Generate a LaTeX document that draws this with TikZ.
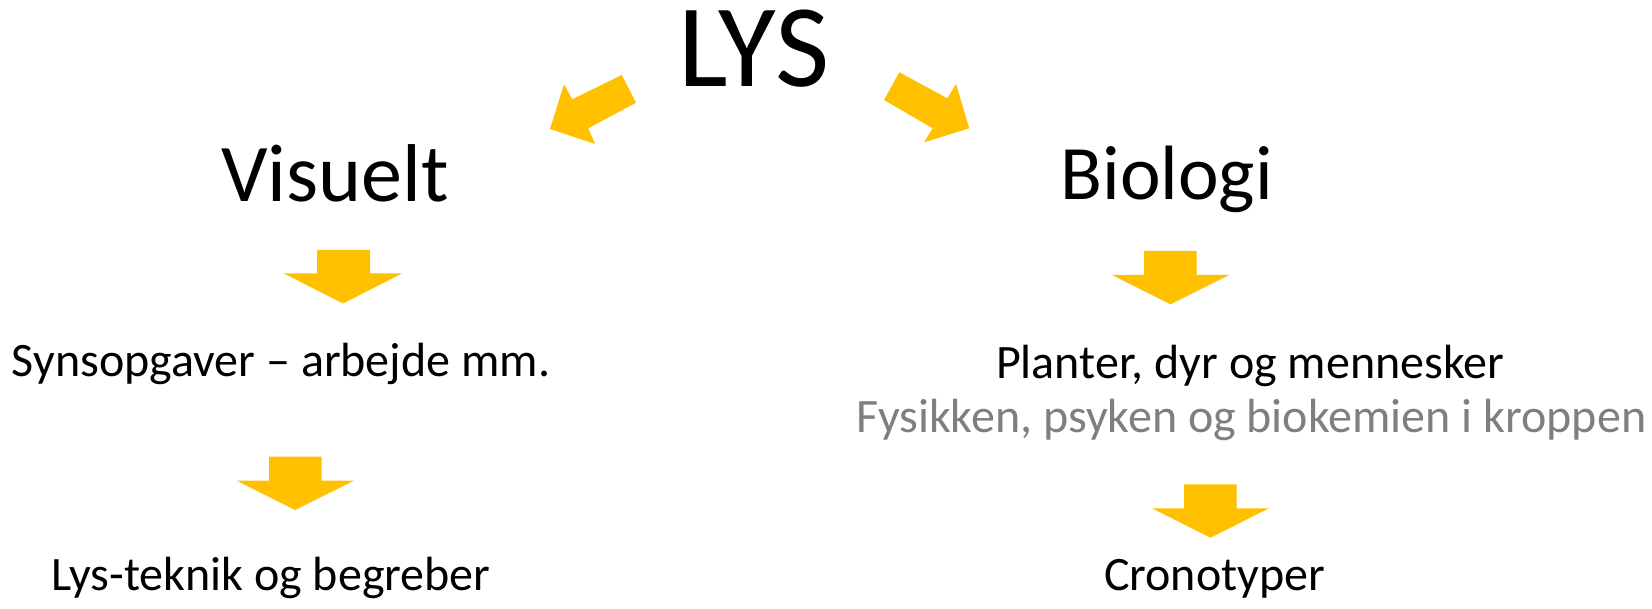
\documentclass[tikz,border=0pt]{standalone}
\usepackage{fontspec}
\setmainfont{Carlito}
\definecolor{gold}{HTML}{FFC000}
\definecolor{subgray}{HTML}{7F7F7F}
\begin{document}
\begin{tikzpicture}[x=1pt,y=-1pt,
  txt/.style={anchor=base west,inner sep=0pt,outer sep=0pt},
  big/.style={txt,font=\fontsize{118}{130}\selectfont},
  midA/.style={txt,font=\fontsize{82}{95}\selectfont},
  midB/.style={txt,font=\fontsize{77}{90}\selectfont},
  small/.style={txt,font=\fontsize{48}{56}\selectfont},
  blockarrow/.style={fill=gold,draw=none}]
\useasboundingbox (0,0) rectangle (1652,609);
% texts
\node[big] (lys) at (678.5,87) {LYS};
\node[midA] (vis) at (221,201.7) {Visuelt};
\node[midB] (bio) at (1060.5,200) {Biologi};
\node[small] (syn) at (12,377) {Synsopgaver – arbejde mm.};
\node[small] (lyst) at (51,590) {Lys-teknik og begreber};
\node[small] (pla) at (996,379) {Planter, dyr og mennesker};
\node[small,text=subgray] (fys) at (856,432) {Fysikken, psyken og biokemien i kroppen};
\node[small] (cro) at (1104,590) {Cronotyper};
% diagonal block arrows
\fill[blockarrow] (621.7,75) -- (636,102.7) -- (588.3,128.3) -- (595,144) -- (550,129) -- (564,84.3) -- (572.3,99.3) -- cycle;
\fill[blockarrow] (899.3,72.3) -- (884,100) -- (932.7,128.3) -- (924,142.3) -- (969.3,128.3) -- (956,84) -- (947.3,98.3) -- cycle;
% down block arrows
\fill[blockarrow] (317,250) -- (370,250) -- (370,273.5) -- (402,273.5) -- (343,303.5) -- (284,273.5) -- (317,273.5) -- cycle;
\fill[blockarrow] (269,456.7) -- (321.7,456.7) -- (321.7,480.7) -- (354,480.7) -- (295,510) -- (236.7,480.7) -- (269,480.7) -- cycle;
\fill[blockarrow] (1144,251) -- (1196.7,251) -- (1196.7,275) -- (1229,275) -- (1170.5,304.3) -- (1112,275) -- (1144,275) -- cycle;
\fill[blockarrow] (1184,484.3) -- (1236.7,484.3) -- (1236.7,508.3) -- (1269,508.3) -- (1210.5,537.7) -- (1152,508.3) -- (1184,508.3) -- cycle;
\end{tikzpicture}
\end{document}
